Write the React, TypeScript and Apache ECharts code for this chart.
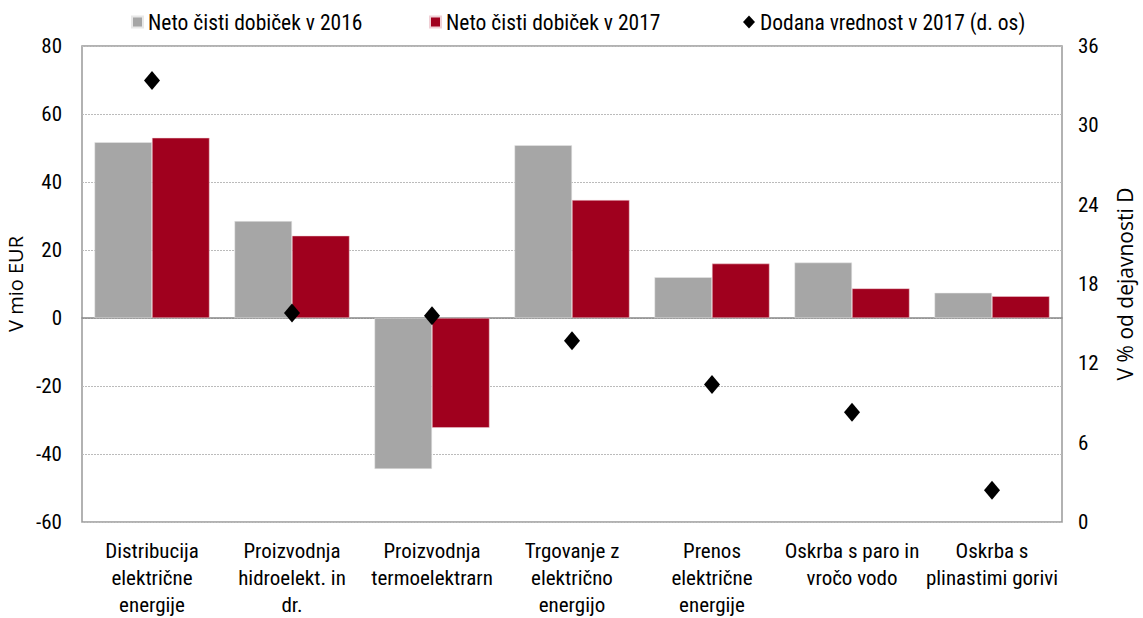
import React, { useEffect, useRef } from "react";
import * as echarts from "echarts";

const categories = [
  "Distribucija\nelektrične\nenergije",
  "Proizvodnja\nhidroelekt. in\ndr.",
  "Proizvodnja\ntermoelektrarn",
  "Trgovanje z\nelektrično\nenergijo",
  "Prenos\nelektrične\nenergije",
  "Oskrba s paro in\nvročo vodo",
  "Oskrba s\nplinastimi gorivi",
];
const profit2016 = [51.7, 28.5, -44.4, 50.8, 12.0, 16.3, 7.4];
const profit2017 = [53.0, 24.2, -32.3, 34.7, 16.0, 8.7, 6.4];
const valueAdded2017 = [33.4, 15.8, 15.6, 13.7, 10.4, 8.3, 2.4];

const leftTicks = { min: -60, max: 80, interval: 20 };
const rightTicks = { min: 0, max: 36, interval: 6 };

const names = [
  "Neto čisti dobiček v 2016",
  "Neto čisti dobiček v 2017",
  "Dodana vrednost v 2017 (d. os)",
];

const FONT = "'Roboto Condensed', 'Liberation Sans Narrow', 'Arial Narrow', sans-serif";
const NAME_FONT = "'Open Sans', 'Noto Sans', sans-serif";

export default function App() {
  const ref = useRef<HTMLDivElement>(null);
  useEffect(() => {
    if (!ref.current) return;
    const chart = echarts.init(ref.current, undefined, { renderer: "svg" });
    const legendBase = {
      top: 6,
      itemWidth: 11,
      itemHeight: 11,
      textStyle: { fontFamily: FONT, fontSize: 21.5, color: "#000" },
      itemGap: 4,
    };
    chart.setOption({
      animation: false,
      textStyle: { fontFamily: FONT },
      legend: [
        { ...legendBase, left: 126, data: [{ name: names[0], icon: "rect" }] },
        { ...legendBase, left: 424, data: [{ name: names[1], icon: "rect" }] },
        { ...legendBase, left: 738, itemWidth: 12, itemHeight: 13, data: [{ name: names[2], icon: "diamond" }] },
      ],
      grid: {
        left: 82,
        right: 81,
        top: 46,
        bottom: 96,
        show: true,
        borderColor: "#999",
        borderWidth: 1.5,
        containLabel: false,
        outerBoundsMode: "none",
      },
      xAxis: {
        type: "category",
        data: categories,
        axisTick: { show: false },
        axisLine: { show: true, onZero: true, lineStyle: { color: "#888", width: 1.5 } },
        axisLabel: {
          interval: 0,
          margin: 15,
          fontFamily: FONT,
          fontSize: 21,
          lineHeight: 27,
          color: "#000",
          align: "center",
        },
      },
      yAxis: [
        {
          type: "value",
          min: leftTicks.min,
          max: leftTicks.max,
          interval: leftTicks.interval,
          name: "V mio EUR",
          nameLocation: "middle",
          nameGap: 55,
          nameTextStyle: { fontFamily: NAME_FONT, fontSize: 20, color: "#000" },
          axisLine: { show: false },
          axisTick: { show: false },
          axisLabel: { fontFamily: FONT, fontSize: 21, color: "#000", margin: 20 },
          splitLine: { show: true, lineStyle: { color: "#bbb", type: [2, 1], width: 1 } },
        },
        {
          type: "value",
          min: rightTicks.min,
          max: rightTicks.max,
          interval: rightTicks.interval,
          name: "V % od dejavnosti D",
          nameLocation: "middle",
          nameGap: 52,
          nameRotate: 90,
          nameTextStyle: { fontFamily: NAME_FONT, fontSize: 21, color: "#000" },
          axisLine: { show: false },
          axisTick: { show: false },
          axisLabel: { fontFamily: FONT, fontSize: 21, color: "#000", margin: 16 },
          splitLine: { show: false },
        },
      ],
      series: [
        {
          name: names[0],
          type: "bar",
          data: profit2016,
          barWidth: 57.5,
          barGap: "0%",
          itemStyle: { color: "#A6A6A6", borderColor: "#e8e8e8", borderWidth: 0.5 },
          yAxisIndex: 0,
        },
        {
          name: names[1],
          type: "bar",
          data: profit2017,
          barWidth: 57.5,
          barGap: "0%",
          itemStyle: { color: "#A0001E", borderColor: "#f0d0d6", borderWidth: 0.5 },
          yAxisIndex: 0,
        },
        {
          name: names[2],
          type: "scatter",
          data: valueAdded2017,
          yAxisIndex: 1,
          symbol: "diamond",
          symbolSize: [16, 19],
          itemStyle: { color: "#000", opacity: 1 },
          z: 5,
        },
      ],
    });
    return () => chart.dispose();
  }, []);
  return <div ref={ref} style={{ width: 1143, height: 618, position: "absolute", left: 0, top: 0 }} />;
}
